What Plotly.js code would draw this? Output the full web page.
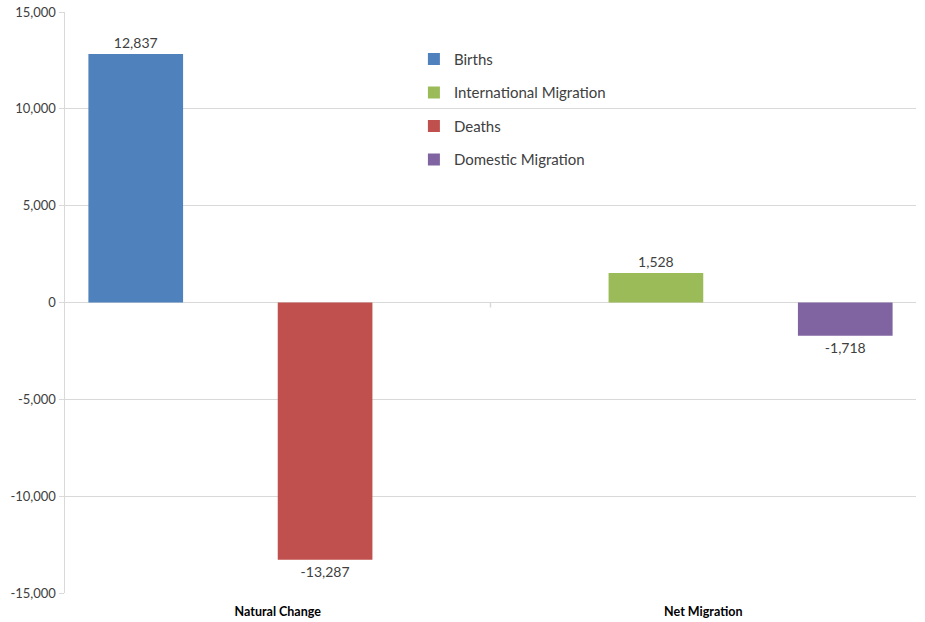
<!DOCTYPE html>
<html>
<head>
<meta charset="utf-8">
<script src="https://cdn.plot.ly/plotly-3.0.1.min.js"></script>
<style>html,body{margin:0;padding:0;background:#fff;}#chart{width:925px;height:622px;}</style>
</head>
<body>
<div id="chart"></div>
<script>
const categories = ["Natural Change", "Net Migration"];
const seriesNames = ["Births", "International Migration", "Deaths", "Domestic Migration"];
const births = [12837, null];
const internationalMigration = [null, 1528];
const deaths = [-13287, null];
const domesticMigration = [null, -1718];
const yTicks = [-15000, -10000, -5000, 0, 5000, 10000, 15000];

const colors = ["#4F81BD", "#9BBB59", "#C0504D", "#8064A2"];
const values = [births, internationalMigration, deaths, domesticMigration];
const fmt = v => (v === null ? "" : v.toLocaleString("en-US"));

const traces = values.map((v, i) => ({
  type: "bar",
  name: seriesNames[i],
  legendgroup: "g" + i,
  x: categories,
  y: v,
  marker: { color: colors[i] },
  text: v.map(fmt),
  texttemplate: "%{text}",
  textposition: "outside",
  cliponaxis: false,
  textfont: { family: "Lato, sans-serif", size: 14, color: "#404040" },
  hoverinfo: "skip"
}));

const layout = {
  width: 925, height: 622,
  margin: { l: 65, r: 9, t: 12, b: 29 },
  paper_bgcolor: "#fff", plot_bgcolor: "#fff",
  barmode: "group", bargap: 0.11, bargroupgap: 0,
  font: { family: "Lato, sans-serif", color: "#404040" },
  showlegend: true,
  legend: {
    x: 0.41, xanchor: "left", y: 0.947, yanchor: "top",
    bgcolor: "rgba(0,0,0,0)",
    font: { family: "Lato, sans-serif", size: 15, color: "#404040" },
    traceorder: "grouped", tracegroupgap: 11
  },
  xaxis: {
    type: "category",
    showgrid: false, showline: false, zeroline: false,
    ticks: "", ticklabelstandoff: 9,
    tickfont: { family: "Lato, sans-serif", size: 12.5, color: "#000" },
    tickprefix: "<b>", ticksuffix: "</b>"
  },
  yaxis: {
    range: [-15000, 15000],
    tickvals: yTicks,
    ticktext: yTicks.map(fmt),
    showgrid: true, gridcolor: "#D9D9D9", gridwidth: 1,
    zeroline: true, zerolinecolor: "#D9D9D9", zerolinewidth: 1.5,
    showline: true, linecolor: "#D9D9D9", linewidth: 1.5,
    ticks: "outside", ticklen: 5, tickcolor: "#D9D9D9",
    tickfont: { family: "Lato, sans-serif", size: 13, color: "#404040" }
  },
  shapes: [{
    type: "line", xref: "x", yref: "y",
    x0: 0.5, x1: 0.5, y0: 0, y1: -260,
    line: { color: "#D9D9D9", width: 1.5 }
  }]
};

Plotly.newPlot("chart", traces, layout, { displayModeBar: false, staticPlot: true });
</script>
</body>
</html>
